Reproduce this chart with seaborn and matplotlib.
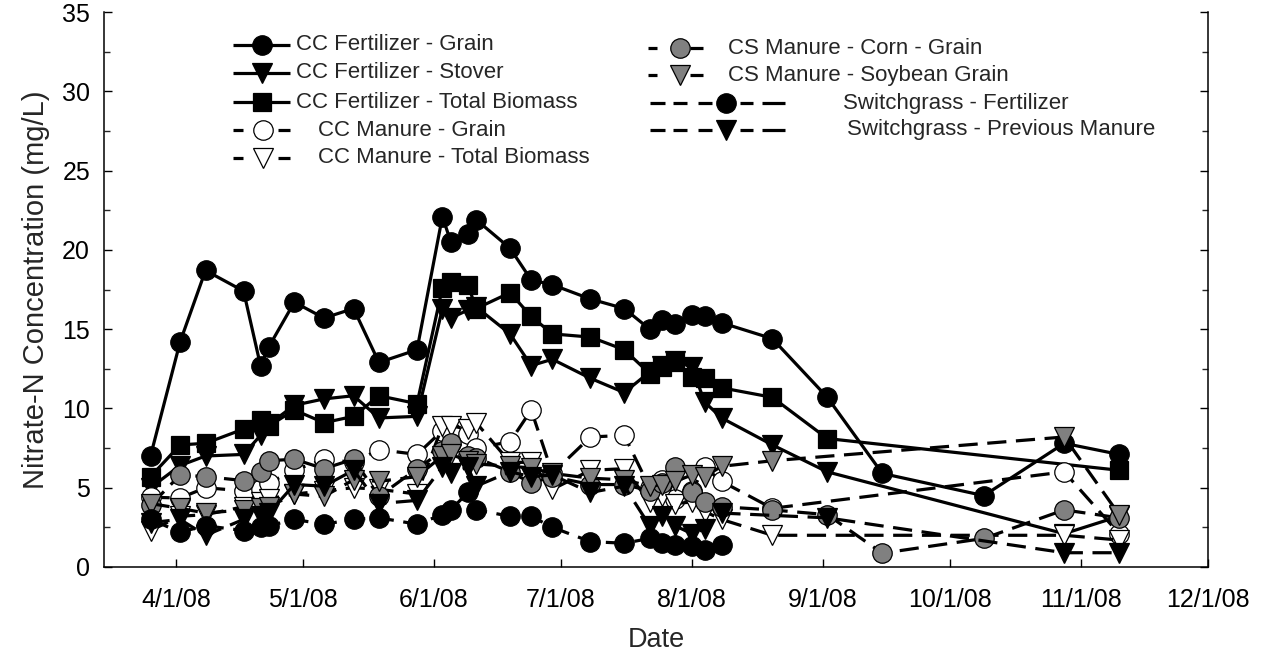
import numpy as np
import pandas as pd
import matplotlib
matplotlib.use("Agg")
import matplotlib.pyplot as plt
import matplotlib.dates as mdates
from matplotlib.lines import Line2D
from matplotlib.ticker import MultipleLocator, FuncFormatter
import seaborn as sns

N = np.nan
dates = ["2008-03-26", "2008-04-02", "2008-04-08", "2008-04-17", "2008-04-21", "2008-04-23",
         "2008-04-29", "2008-05-06", "2008-05-13", "2008-05-19", "2008-05-28", "2008-06-03",
         "2008-06-05", "2008-06-09", "2008-06-11", "2008-06-19", "2008-06-24", "2008-06-29",
         "2008-07-08", "2008-07-16", "2008-07-22", "2008-07-25", "2008-07-28", "2008-08-01",
         "2008-08-04", "2008-08-08", "2008-08-20", "2008-09-02", "2008-09-15", "2008-10-09",
         "2008-10-28", "2008-11-10"]

cc_fert_grain = [7.0, 14.2, 18.7, 17.4, 12.7, 13.9, 16.7, 15.7, 16.3, 12.9, 13.7, 22.1, 20.5, 21.0, 21.9, 20.1,
                 18.1, 17.8, 16.9, 16.3, 15.0, 15.6, 15.3, 15.9, 15.8, 15.4, 14.4, 10.7, 5.9, 4.5, 7.8, 7.1]
cc_fert_stover = [5.0, 6.4, 7.0, 7.1, 8.3, 9.0, 10.2, 10.6, 10.8, 9.4, 9.5, 16.3, 15.7, 16.2, 16.4, 14.7,
                  12.7, 13.1, 11.9, 11.0, 12.3, 12.7, 13.0, 12.6, 10.4, 9.4, 7.7, 6.0, N, N, 2.1, 3.2]
cc_fert_total = [5.7, 7.7, 7.8, 8.7, 9.3, 8.9, 9.9, 9.1, 9.5, 10.8, 10.3, 17.6, 18.0, 17.8, 16.3, 17.3,
                 15.8, 14.7, 14.5, 13.7, 12.2, 12.6, 12.9, 12.0, 11.9, 11.3, 10.7, 8.1, N, N, N, 6.1]
cc_man_grain = [4.4, 4.35, 5.0, 4.8, 4.9, 5.3, 6.1, 6.8, 6.6, 7.4, 7.1, 8.6, 8.5, 8.4, 7.5, 7.9,
                9.9, 5.9, 8.2, 8.3, 5.0, 5.5, 4.3, 4.8, 6.3, 5.4, 3.7, N, N, N, 6.0, 2.1]
cc_man_total = [2.3, 3.2, 3.3, 3.8, 4.1, 4.3, 4.6, 4.8, 5.0, 4.9, 4.6, 8.9, 8.9, 8.7, 9.1, 6.6,
                6.6, 4.9, 6.1, 6.2, 4.1, 4.5, 4.0, 4.1, 3.5, 3.0, 2.0, N, N, N, 2.0, 1.7]
cs_corn = [3.9, 5.8, 5.7, 5.45, 6.0, 6.7, 6.8, 6.2, 6.8, 4.45, 6.2, 7.3, 7.8, 7.0, 6.9, 6.0,
           5.3, 5.7, 5.2, 5.2, 4.8, 5.3, 6.3, 4.7, 4.1, 3.8, 3.6, 3.3, 0.87, 1.8, 3.6, 3.1]
cs_soy = [4.0, 3.7, 3.4, 3.6, 3.7, 3.8, 4.6, 4.45, 5.5, 5.4, 5.7, 7.0, 7.1, 6.7, 6.5, 6.35,
          6.25, 5.9, 5.6, 5.5, 5.1, 5.2, 5.4, 5.8, 5.7, 6.35, 6.7, N, N, N, 8.2, 3.3]
sg_fert = [3.0, 2.2, 2.6, 2.3, 2.5, 2.6, 3.0, 2.7, 3.0, 3.1, 2.7, 3.3, 3.6, 4.7, 3.6, 3.2,
           3.2, 2.5, 1.6, 1.5, 1.8, 1.5, 1.4, 1.3, 1.1, 1.4, N, N, N, N, N, N]
sg_prev = [2.8, 3.0, 2.0, 3.0, 3.2, 3.4, 5.2, 5.1, 6.1, 4.0, 4.2, 6.3, 5.9, 6.3, 5.1, 6.0,
           5.7, 5.8, 4.7, 5.1, 2.6, 3.2, 2.6, 2.1, 2.4, 3.4, N, 3.1, N, N, 0.9, 0.9]

labels = ["CC Fertilizer - Grain", "CC Fertilizer - Stover", "CC Fertilizer - Total Biomass",
          "CC Manure - Grain", "CC Manure - Total Biomass", "CS Manure - Corn - Grain",
          "CS Manure - Soybean Grain", "Switchgrass - Fertilizer", "Switchgrass - Previous Manure"]
series = [cc_fert_grain, cc_fert_stover, cc_fert_total, cc_man_grain, cc_man_total,
          cs_corn, cs_soy, sg_fert, sg_prev]

GREY = "#808080"
DASH = (0, (6, 3))
styles = [
    dict(marker="o", mfc="black", ls="-", ms=14),
    dict(marker="v", mfc="black", ls="-", ms=14),
    dict(marker="s", mfc="black", ls="-", ms=13),
    dict(marker="o", mfc="white", ls=DASH, ms=14),
    dict(marker="v", mfc="white", ls=DASH, ms=14),
    dict(marker="o", mfc=GREY, ls=DASH, ms=14),
    dict(marker="v", mfc=GREY, ls=DASH, ms=14),
    dict(marker="o", mfc="black", ls=DASH, ms=14),
    dict(marker="v", mfc="black", ls=DASH, ms=14),
]

sns.set_style("ticks")
plt.rcParams["font.family"] = ["Liberation Sans", "DejaVu Sans"]

W, H = 1265, 658
fig = plt.figure(figsize=(W / 100, H / 100), dpi=100)
ax = fig.add_axes([104 / W, (H - 567) / H, (1208 - 104) / W, (567 - 12) / H])

x_all = pd.to_datetime(dates)
for vals, st in zip(series, styles):
    df = pd.DataFrame({"date": x_all, "value": vals}).dropna()
    sns.lineplot(data=df, x="date", y="value", ax=ax, color="black", linewidth=2.3,
                 linestyle=st["ls"], marker=st["marker"], markersize=st["ms"],
                 markerfacecolor=st["mfc"], markeredgecolor="black", markeredgewidth=0.9,
                 estimator=None, errorbar=None, sort=False, legend=False)

ax.set_xlim(pd.Timestamp("2008-03-15"), pd.Timestamp("2008-12-01"))
ax.set_ylim(0, 35)
ax.xaxis.set_major_locator(mdates.MonthLocator(bymonthday=1))


def fmt_date(v, pos):
    d = mdates.num2date(v)
    return f"{d.month}/{d.day}/{d.strftime('%y')}"


ax.xaxis.set_major_formatter(FuncFormatter(fmt_date))
ax.yaxis.set_major_locator(MultipleLocator(5))
ax.yaxis.set_minor_locator(MultipleLocator(2.5))

for s in ["left", "bottom", "right"]:
    ax.spines[s].set_linewidth(1.1)
    ax.spines[s].set_color("black")
ax.spines["top"].set_visible(False)

ax.tick_params(axis="both", which="major", direction="in", length=6, width=1.0,
               labelsize=18, colors="black")
ax.tick_params(axis="y", which="both", right=True, direction="in")
ax.tick_params(axis="y", which="minor", length=4, width=1.0)
ax.tick_params(axis="y", which="major", pad=10)
ax.tick_params(axis="x", which="major", pad=15)

ax.set_xlabel("Date", fontsize=19.5, labelpad=11)
ax.set_ylabel("Nitrate-N Concentration (mg/L)", fontsize=21, labelpad=9)


# ---- manual legend (pixel positions) ----
def fx(px):
    return px / W


def fy(py):
    return 1 - py / H


def seg(x0, x1, y):
    fig.add_artist(Line2D([fx(x0), fx(x1)], [fy(y), fy(y)], transform=fig.transFigure,
                          color="black", lw=2.3, solid_capstyle="butt"))


def mark(x, y, st):
    fig.add_artist(Line2D([fx(x)], [fy(y)], transform=fig.transFigure, ls="none",
                          marker=st["marker"], markersize=st["ms"], markerfacecolor=st["mfc"],
                          markeredgecolor="black", markeredgewidth=0.9))


LFS = 16
left_rows = [45, 73, 102, 130, 158]
for i, y in enumerate(left_rows):
    st = styles[i]
    if i < 3:
        seg(233, 290, y)
        mark(262, y, st)
        fig.text(fx(296), fy(y), labels[i], fontsize=LFS, va="center", ha="left")
    else:
        seg(233, 243, y)
        seg(278, 290, y)
        mark(263, y, st)
        fig.text(fx(318), fy(y), labels[i], fontsize=LFS, va="center", ha="left")

right_rows = [48, 75, 103, 130]
for j, y in enumerate(right_rows):
    i = 5 + j
    st = styles[i]
    if j < 2:
        seg(648, 657, y)
        seg(690, 703, y)
        mark(680, y, st)
        fig.text(fx(728), fy(y), labels[i], fontsize=LFS, va="center", ha="left")
    else:
        for a, b in [(650, 665), (673, 687), (698, 712), (740, 753), (762, 785)]:
            seg(a, b, y)
        mark(726, y, st)
        fig.text(fx(843 if j == 2 else 847), fy(y), labels[i], fontsize=LFS, va="center", ha="left")

fig.savefig("out.png", dpi=100)
